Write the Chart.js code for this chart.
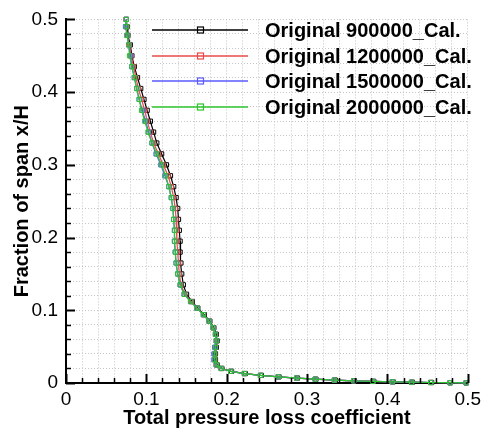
<!DOCTYPE html>
<html>
<head>
<meta charset="utf-8">
<script src="https://cdn.jsdelivr.net/npm/chart.js@4"></script>
<style>
  html, body { margin: 0; padding: 0; background: #fff; }
  #wrap { width: 486px; height: 430px; }
</style>
</head>
<body>
<div id="wrap"><canvas id="chart" width="486" height="430"></canvas></div>
<script>
/**********************************
  DATA
**********************************/
const seriesNames = [
  'Original 900000_Cal.',
  'Original 1200000_Cal.',
  'Original 1500000_Cal.',
  'Original 2000000_Cal.'
];

// fraction of span x/H (shared by all four runs)
const spanY = [
  0.500, 0.490, 0.478, 0.465, 0.450, 0.435, 0.420, 0.405, 0.390, 0.375,
  0.360, 0.345, 0.330, 0.315, 0.300, 0.285, 0.270, 0.255, 0.240, 0.225,
  0.210, 0.195, 0.180, 0.165, 0.150, 0.135, 0.122, 0.112, 0.103, 0.094,
  0.085, 0.076, 0.067, 0.058, 0.049, 0.040, 0.032, 0.025, 0.020, 0.016,
  0.013, 0.0105, 0.0085, 0.0068, 0.0052, 0.0040, 0.0030, 0.0022, 0.0016, 0.0011,
  0.0007, 0.0004, 0.0002
];

// total pressure loss coefficient per run
const loss900k = [
  0.075, 0.076, 0.077, 0.080, 0.082, 0.085, 0.089, 0.093, 0.097, 0.101,
  0.105, 0.109, 0.113, 0.119, 0.125, 0.130, 0.134, 0.137, 0.139, 0.140,
  0.141, 0.142, 0.142, 0.143, 0.144, 0.146, 0.150, 0.157, 0.164, 0.172,
  0.179, 0.184, 0.187, 0.188, 0.187, 0.186, 0.186, 0.188, 0.194, 0.206,
  0.223, 0.243, 0.265, 0.288, 0.311, 0.335, 0.359, 0.383, 0.407, 0.431,
  0.455, 0.478, 0.498
];
const loss1200k = [
  0.075, 0.075, 0.076, 0.079, 0.081, 0.084, 0.087, 0.090, 0.094, 0.098,
  0.101, 0.105, 0.109, 0.115, 0.121, 0.127, 0.131, 0.134, 0.136, 0.137,
  0.138, 0.138, 0.139, 0.140, 0.141, 0.143, 0.148, 0.156, 0.163, 0.171,
  0.178, 0.183, 0.186, 0.187, 0.186, 0.185, 0.185, 0.187, 0.193, 0.205,
  0.222, 0.242, 0.264, 0.287, 0.310, 0.334, 0.358, 0.382, 0.406, 0.430,
  0.454, 0.478, 0.498
];
const loss1500k = [
  0.075, 0.074, 0.076, 0.078, 0.080, 0.082, 0.085, 0.088, 0.091, 0.095,
  0.099, 0.103, 0.107, 0.112, 0.118, 0.123, 0.128, 0.131, 0.133, 0.134,
  0.135, 0.135, 0.136, 0.137, 0.139, 0.142, 0.147, 0.155, 0.163, 0.171,
  0.178, 0.183, 0.186, 0.187, 0.185, 0.184, 0.184, 0.187, 0.193, 0.205,
  0.222, 0.242, 0.264, 0.287, 0.310, 0.334, 0.358, 0.382, 0.406, 0.430,
  0.454, 0.478, 0.498
];
const loss2000k = [
  0.075, 0.075, 0.076, 0.078, 0.079, 0.082, 0.085, 0.088, 0.091, 0.094,
  0.098, 0.102, 0.107, 0.113, 0.119, 0.124, 0.128, 0.131, 0.133, 0.134,
  0.135, 0.135, 0.136, 0.137, 0.139, 0.142, 0.147, 0.155, 0.163, 0.171,
  0.178, 0.183, 0.186, 0.187, 0.186, 0.185, 0.185, 0.187, 0.193, 0.205,
  0.222, 0.242, 0.264, 0.287, 0.310, 0.334, 0.358, 0.382, 0.406, 0.430,
  0.454, 0.478, 0.498
];

const xTickLabels = ['0', '0.1', '0.2', '0.3', '0.4', '0.5'];
const yTickLabels = ['0', '0.1', '0.2', '0.3', '0.4', '0.5'];

/**********************************
  STYLE
**********************************/
const lossRuns = [loss900k, loss1200k, loss1500k, loss2000k];
const colors = ['#000000', '#e84a4a', '#5a5aff', '#2ec42e'];
const FONT = 'Liberation Sans, Arial, sans-serif';

function toPoints(xs) {
  return xs.map((x, i) => ({ x: x, y: spanY[i] }));
}

// label only every 0.1, grid every 0.02
function labelFor(list) {
  return function (value) {
    const k = value * 10;
    if (Math.abs(k - Math.round(k)) > 1e-6) return '';
    return list[Math.round(k)];
  };
}

// inward tick marks on the left and bottom axes
const innerTicks = {
  id: 'innerTicks',
  afterDraw(chart) {
    const { ctx, chartArea, scales } = chart;
    ctx.save();
    ctx.setLineDash([]);
    ctx.strokeStyle = '#000';
    for (let i = 0; i <= 25; i++) {
      const v = i * 0.02;
      const major = i % 5 === 0;
      const len = major ? 9 : 5;
      ctx.lineWidth = major ? 2 : 1.5;
      const px = Math.round(scales.x.getPixelForValue(v)) + 0.5;
      ctx.beginPath();
      ctx.moveTo(px, chartArea.bottom);
      ctx.lineTo(px, chartArea.bottom - len);
      ctx.stroke();
      const py = Math.round(scales.y.getPixelForValue(v)) + 0.5;
      ctx.beginPath();
      ctx.moveTo(chartArea.left, py);
      ctx.lineTo(chartArea.left + len, py);
      ctx.stroke();
    }
    ctx.restore();
  }
};

// legend inside the plot, top right
const insideLegend = {
  id: 'insideLegend',
  afterDraw(chart) {
    const { ctx } = chart;
    const rowsY = [30, 56, 81, 107];
    ctx.save();
    ctx.setLineDash([]);
    seriesNames.forEach((name, i) => {
      const y = rowsY[i];
      ctx.strokeStyle = colors[i];
      ctx.lineWidth = 1.6;
      ctx.beginPath();
      ctx.moveTo(152, y);
      ctx.lineTo(248, y);
      ctx.stroke();
      ctx.lineWidth = 1.2;
      ctx.strokeRect(197.5, y - 3, 6, 6);
      ctx.fillStyle = '#000';
      ctx.font = 'bold 20px ' + FONT;
      ctx.textAlign = 'left';
      ctx.textBaseline = 'middle';
      ctx.fillText(name, 265, y + 1);
    });
    ctx.restore();
  }
};

/**********************************
  CHART
**********************************/
const ctx = document.getElementById('chart').getContext('2d');
new Chart(ctx, {
  type: 'scatter',
  data: {
    datasets: seriesNames.map((name, i) => ({
      label: name,
      data: toPoints(lossRuns[i]),
      showLine: true,
      borderColor: colors[i],
      borderWidth: 1.2,
      pointStyle: 'rect',
      pointRadius: 3,
      pointBorderWidth: 1,
      pointBorderColor: colors[i],
      pointBackgroundColor: 'rgba(0,0,0,0)',
      order: 3 - i,
      clip: false
    }))
  },
  options: {
    responsive: false,
    animation: false,
    devicePixelRatio: 1,
    layout: { padding: { top: 16, right: 16, left: 0, bottom: 0 } },
    plugins: {
      legend: { display: false },
      tooltip: { enabled: false }
    },
    scales: {
      x: {
        type: 'linear',
        min: 0,
        max: 0.5,
        afterFit(scale) { scale.height = 47; },
        ticks: {
          stepSize: 0.02,
          autoSkip: false,
          maxRotation: 0,
          padding: 5,
          color: '#000',
          font: { family: FONT, size: 19 },
          callback: labelFor(xTickLabels)
        },
        grid: { color: '#c4c4c4', lineWidth: 1, drawTicks: false },
        border: { display: true, color: '#000', width: 2, dash: [1, 2] },
        title: {
          display: true,
          text: 'Total pressure loss coefficient',
          color: '#000',
          font: { family: FONT, size: 20, weight: 'bold' },
          padding: { top: 2, bottom: 0 }
        }
      },
      y: {
        type: 'linear',
        min: 0,
        max: 0.5,
        afterFit(scale) { scale.width = 66; },
        ticks: {
          stepSize: 0.02,
          autoSkip: false,
          padding: 8,
          color: '#000',
          font: { family: FONT, size: 19 },
          callback: labelFor(yTickLabels)
        },
        grid: { color: '#c4c4c4', lineWidth: 1, drawTicks: false },
        border: { display: true, color: '#000', width: 2, dash: [1, 2] },
        title: {
          display: true,
          text: 'Fraction of span x/H',
          color: '#000',
          font: { family: FONT, size: 20, weight: 'bold' },
          padding: { top: 10, bottom: 0 }
        }
      }
    }
  },
  plugins: [innerTicks, insideLegend]
});
</script>
</body>
</html>
